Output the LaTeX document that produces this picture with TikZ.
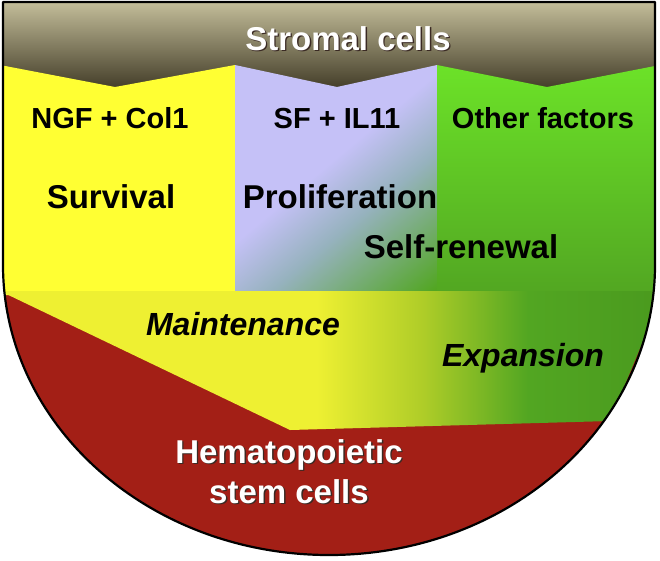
\documentclass[tikz,border=0pt]{standalone}
\usepackage{fontspec}
\setmainfont{Liberation Sans}
\usepackage{xcolor}
\usepackage{tikz}
\usetikzlibrary{positioning,calc}
\definecolor{hsStroma}{HTML}{C6C09C}
\definecolor{hsStromaDk}{HTML}{3E3824}
\definecolor{hsYellow}{HTML}{FFFF33}
\definecolor{hsLav}{HTML}{C5C1F7}
\definecolor{hsSlate}{HTML}{96B2BE}
\definecolor{hsGreen}{HTML}{6CE228}
\definecolor{hsGreenDk}{HTML}{52A622}
\definecolor{hsGreenDp}{HTML}{4A9A1E}
\definecolor{hsBandY}{HTML}{EEF032}
\definecolor{hsBandMid}{HTML}{AFCD28}
\definecolor{hsRed}{HTML}{A31F16}
\definecolor{hsShadow}{HTML}{3A2A24}
\pgfdeclarehorizontalshading{hsLavShade}{100bp}{color(0bp)=(hsLav); color(46bp)=(hsLav); color(60bp)=(hsSlate); color(84bp)=(hsGreenDk); color(100bp)=(hsGreenDk)}
\pgfdeclarehorizontalshading{hsBandShade}{100bp}{color(0bp)=(hsBandY); color(49bp)=(hsBandY); color(57bp)=(hsBandMid); color(65bp)=(hsGreenDk); color(75bp)=(hsGreenDp); color(100bp)=(hsGreenDp)}
\tikzset{
  factor/.style={font=\fontsize{29}{33}\selectfont\bfseries, anchor=base, inner sep=0pt},
  effect/.style={font=\fontsize{33}{38}\selectfont\bfseries, anchor=base, inner sep=0pt},
  mode/.style={effect, font=\fontsize{32}{37}\selectfont\bfseries\itshape},
  cellname/.style={effect, font=\fontsize{33}{40}\selectfont\bfseries, text=white, align=center},
  rim/.style={draw=black, line width=2.2pt, line join=round}
}
\newcommand{\hsShade}[1]{\makebox[0pt][l]{\hspace*{1.4pt}\raisebox{-1.6pt}{\textcolor{hsShadow}{#1}}}#1}
\newcommand{\hsOutline}{(3,2) -- (655,2) -- (655,265) arc[start angle=0, end angle=180, x radius=326, y radius=290] -- cycle}

\begin{document}
\begin{tikzpicture}[x=1pt, y=-1pt]
  \useasboundingbox (0,0) rectangle (660,560);
  % layers inside the rim
  \begin{scope}
    \clip \hsOutline;
    \shade[top color=hsStroma, bottom color=hsStromaDk] (0,0) rectangle (660,92);
    \fill[hsRed] (0,250) rectangle (660,560);
    \fill[hsYellow] (0,65) -- (115,87) -- (235,65) -- (235,295) -- (0,295) -- cycle;
    \shade[shading=hsLavShade, shading angle=-50] (235,65) -- (337,87) -- (437,65) -- (437,295) -- (235,295) -- cycle;
    \shade[top color=hsGreen, bottom color=hsGreenDk] (437,65) -- (547,87) -- (660,65) -- (660,295) -- (437,295) -- cycle;
    \shade[shading=hsBandShade] (0,291) -- (660,291) -- (660,300) -- (610,421) -- (290,430) -- cycle;
  \end{scope}
  \draw[rim] \hsOutline;

  % labels
  \node[cellname] (stroma) at (348,50) {\hsShade{Stromal cells}};
  \node[factor] (ngf) at (110,128) {NGF + Col1};
  \node[factor] (sf) at (337,128) {SF + IL11};
  \node[factor] (other) at (543,128) {Other factors};
  \node[effect] (surv) at (111,208) {Survival};
  \node[effect] (prolif) at (340,208) {Proliferation};
  \node[effect] (selfren) at (461,258) {Self-renewal};
  \node[mode] (maint) at (243,335) {Maintenance};
  \node[mode] (expan) at (523,366) {Expansion};
  \node[cellname, anchor=center] (hsc) at (289,472) {\hsShade{Hematopoietic}\\\hsShade{stem cells}};
\end{tikzpicture}
\end{document}
